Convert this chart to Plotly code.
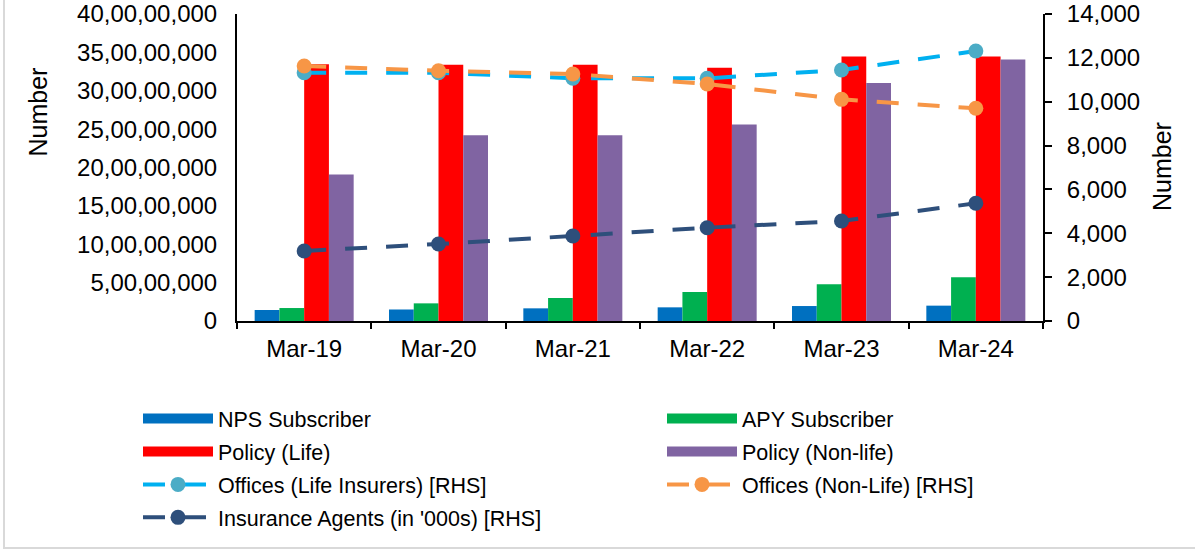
import plotly.graph_objects as go

categories = ["Mar-19", "Mar-20", "Mar-21", "Mar-22", "Mar-23", "Mar-24"]
nps_subscriber = [14300000, 15000000, 16500000, 17800000, 19500000, 20000000]
apy_subscriber = [16900000, 23000000, 30000000, 37800000, 47800000, 57000000]
policy_life = [334600000, 334000000, 334000000, 330000000, 344600000, 344600000]
policy_nonlife = [191000000, 242000000, 242000000, 256000000, 310000000, 340700000]
offices_life = [11323, 11323, 11067, 11067, 11446, 12312]
offices_nonlife = [11628, 11414, 11263, 10807, 10108, 9699]
agents_000s = [3192, 3511, 3876, 4255, 4560, 5367]

left_tickvals = [0, 50000000, 100000000, 150000000, 200000000, 250000000, 300000000, 350000000, 400000000]
left_ticktext = ["0", "5,00,00,000", "10,00,00,000", "15,00,00,000", "20,00,00,000",
                 "25,00,00,000", "30,00,00,000", "35,00,00,000", "40,00,00,000"]

W, H = 1195, 551
PLOT_L, PLOT_R, PLOT_T, PLOT_B = 237, 1043, 14, 321
ML, MT = PLOT_L, PLOT_T
PW, PH = PLOT_R - PLOT_L, PLOT_B - PLOT_T
MR, MB = W - ML - PW, H - MT - PH
FONT = "Liberation Sans, Arial, sans-serif"
DASH = "22px,19px"


def px_x(page_x):
    return (page_x - PLOT_L) / PW


def px_y(page_y):
    return (PLOT_B - page_y) / PH


bar_specs = [
    ("NPS Subscriber", nps_subscriber, "#0070C0", "legend", "g1", 1),
    ("APY Subscriber", apy_subscriber, "#00B050", "legend2", "g2", 1),
    ("Policy (Life)", policy_life, "#FF0000", "legend", "g3", 2),
    ("Policy (Non-life)", policy_nonlife, "#8064A2", "legend2", "g4", 2),
]
line_specs = [
    ("Offices (Life Insurers) [RHS]", offices_life, "#00B0F0", "#4BACC6", "legend", "g5", 3),
    ("Offices (Non-Life) [RHS]", offices_nonlife, "#F79646", "#F79646", "legend2", "g6", 3),
    ("Insurance Agents (in '000s) [RHS]", agents_000s, "#2E4F7B", "#2E4F7B", "legend", "g7", 4),
]

fig = go.Figure()
for name, vals, color, leg, grp, rank in bar_specs:
    fig.add_trace(go.Bar(x=categories, y=vals, name=name, marker=dict(color=color, line=dict(width=0)),
                         legend=leg, legendgroup=grp, showlegend=False))

for name, vals, lcolor, mcolor, leg, grp, rank in line_specs:
    fig.add_trace(go.Scatter(x=categories, y=vals, name=name, yaxis="y2", mode="lines+markers",
                             line=dict(color=lcolor, width=4, dash=DASH),
                             marker=dict(color=mcolor, size=15), legend=leg, legendgroup=grp,
                             legendrank=rank))

# legend entries for the bars (wide swatches like the original)
for name, vals, color, leg, grp, rank in bar_specs:
    fig.add_trace(go.Scatter(x=[categories[0]], y=[None], name=name, mode="lines",
                             line=dict(color=color, width=12), legend=leg, legendgroup=grp,
                             legendrank=rank, hoverinfo="skip"))

legend_common = dict(
    orientation="v", xref="container", yref="container", xanchor="left", yanchor="top",
    font=dict(family=FONT, size=21.5, color="#000000"), itemwidth=70, tracegroupgap=2,
    bgcolor="rgba(0,0,0,0)", traceorder="grouped",
)

fig.update_layout(
    width=W, height=H,
    margin=dict(l=ML, r=MR, t=MT, b=MB, pad=0, autoexpand=False),
    paper_bgcolor="white", plot_bgcolor="white",
    font=dict(family=FONT, size=24, color="#000000"),
    barmode="group", bargap=0.263, bargroupgap=0,
    xaxis=dict(type="category", showline=True, linecolor="#000000", linewidth=2,
               ticks="outside", ticklen=6, tickwidth=2, tickcolor="#000000", tickson="boundaries",
               showgrid=False, ticklabelstandoff=5, tickfont=dict(size=24), tickangle=0,
               automargin=False),
    yaxis=dict(range=[0, 400000000], tickvals=left_tickvals, ticktext=left_ticktext,
               showline=True, linecolor="#000000", linewidth=2, ticks="", showgrid=False,
               zeroline=False, ticklabelstandoff=13, tickfont=dict(size=24), automargin=False,
               ticklabeloverflow="allow"),
    yaxis2=dict(range=[0, 14000], dtick=2000, tickformat=",d", overlaying="y", side="right",
                showline=True, linecolor="#000000", linewidth=2, ticks="outside", ticklen=7,
                tickwidth=2, tickcolor="#000000", showgrid=False, zeroline=False,
                ticklabelstandoff=10, tickfont=dict(size=24), automargin=False,
                ticklabeloverflow="allow"),
    legend=dict(x=138 / W, y=1 - 398 / H, **legend_common),
    legend2=dict(x=662 / W, y=1 - 398 / H, **legend_common),
    showlegend=True,
    annotations=[
        dict(text="Number", xref="paper", yref="paper", x=px_x(37.5), y=px_y(112),
             textangle=-90, showarrow=False, font=dict(size=25, family=FONT, color="#000000"),
             xanchor="center", yanchor="middle"),
        dict(text="Number", xref="paper", yref="paper", x=px_x(1162), y=px_y(167),
             textangle=-90, showarrow=False, font=dict(size=25, family=FONT, color="#000000"),
             xanchor="center", yanchor="middle"),
    ],
    shapes=[
        dict(type="rect", xref="paper", yref="paper",
             x0=px_x(4), x1=px_x(1215), y0=px_y(548), y1=px_y(-20),
             line=dict(color="#D9D9D9", width=2), fillcolor="rgba(0,0,0,0)", layer="below"),
    ],
)

# remove the page's default 8px body margin so the figure sits at the window's top-left
fig.write_html("out.html", config={"displayModeBar": False},
               post_script="document.body.style.margin='0px';")
